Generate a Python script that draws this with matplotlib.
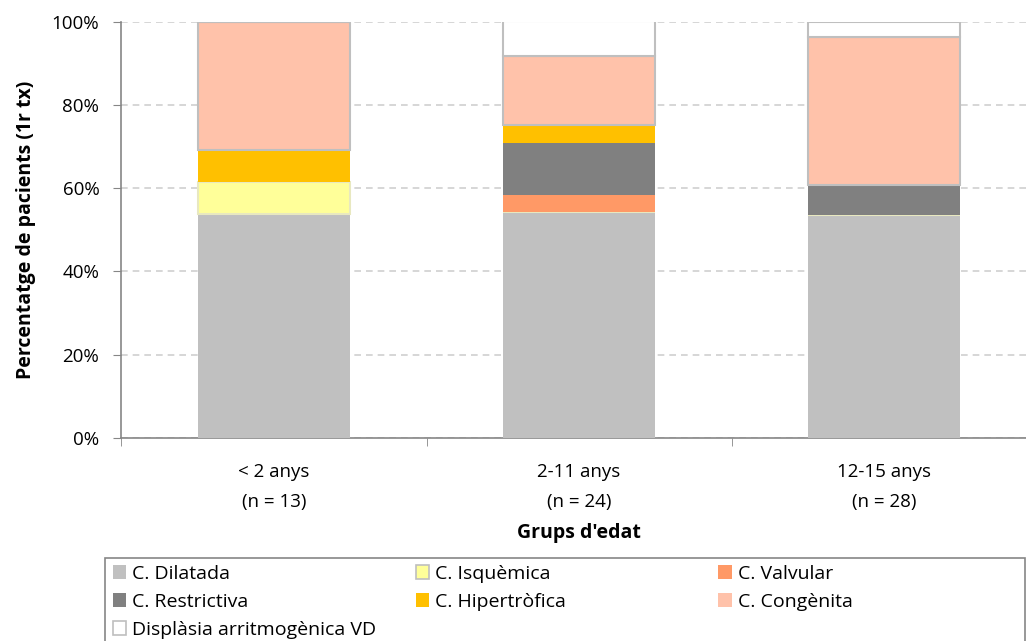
import numpy as np
import matplotlib.pyplot as plt
from matplotlib.patches import Rectangle
from matplotlib.ticker import PercentFormatter

plt.rcParams['font.family'] = ['Open Sans', 'DejaVu Sans']

grups = ['< 2 anys\n(n = 13)', '2-11 anys\n(n = 24)', '12-15 anys\n(n = 28)']
noms = ['C. Dilatada', 'C. Isquèmica', 'C. Valvular', 'C. Restrictiva',
        'C. Hipertròfica', 'C. Congènita', 'Displàsia arritmogènica VD']
# percentatges per grup (1r tx)
dilatada = [53.8, 54.2, 53.6]
isquemica = [7.7, 0, 0]
valvular = [0, 4.2, 0]
restrictiva = [0, 12.5, 7.1]
hipertrofica = [7.7, 4.2, 0]
congenita = [30.8, 16.7, 35.7]
displasia = [0, 8.3, 3.6]

colors = ['#C0C0C0', '#FFFF99', '#FF9966', '#808080', '#FFC000', '#FFC2AA', '#FFFFFF']
edges = ['none', '#E8E8C0', 'none', 'none', 'none', '#BFBFBF', '#BFBFBF']
FS = 13.5

fig = plt.figure(figsize=(10.26, 6.41), dpi=100)
# l'eix s'allarga una mica fora de la figura per la dreta, com a l'original
ax = fig.add_axes([0.1184, 0.317, 0.892, 0.649])

x = np.arange(len(grups))
series = [dilatada, isquemica, valvular, restrictiva, hipertrofica, congenita, displasia]
bottom = np.zeros(len(grups))
rects = []
for vals, nom, c, e in zip(series, noms, colors, edges):
    vals = np.array(vals)
    r = ax.bar(x, vals, 0.5, bottom=bottom, color=c, label=nom,
               edgecolor=e, linewidth=1.5 if e != 'none' else 0, zorder=3)
    rects.append(r)
    bottom = bottom + vals

ax.set_xlim(-0.5, 2.5)
ax.set_ylim(0, 100)
ax.set_yticks(np.arange(0, 101, 20))
ax.yaxis.set_major_formatter(PercentFormatter(decimals=0))
ax.set_xticks(x)
ax.set_xticklabels(grups, linespacing=1.85)
ax.set_xticks([-0.5, 0.5, 1.5, 2.5], minor=True)
ax.tick_params(axis='x', which='major', length=0, pad=18, labelsize=FS)
ax.tick_params(axis='x', which='minor', length=6, color='#868686', direction='out')
ax.tick_params(axis='y', length=6, color='#868686', labelsize=FS, pad=10)
ax.grid(axis='y', linestyle=(0, (4, 3)), color='#D0D0D0', linewidth=1.2, zorder=0)

for s in ['top', 'right']:
    ax.spines[s].set_visible(False)
for s in ['left', 'bottom']:
    ax.spines[s].set_color('#868686')
    ax.spines[s].set_linewidth(1.2)

ax.set_ylabel('Percentatge de pacients (1r tx)', fontsize=14, fontweight='bold', labelpad=11)
ax.set_xlabel("Grups d'edat", fontsize=14, fontweight='bold', labelpad=9)

# llegenda: marc i tres columnes, fila a fila com a Excel
fig.patches.append(Rectangle((0.102, -0.05), 0.897, 0.18, transform=fig.transFigure,
                             facecolor='white', edgecolor='#868686', linewidth=1.2))
columnes = [[0, 3, 6], [1, 4], [2, 5]]
xcol = [0.110, 0.405, 0.700]
for idx, xc in zip(columnes, xcol):
    leg = fig.legend([rects[i] for i in idx], [noms[i] for i in idx],
                     loc='upper left', bbox_to_anchor=(xc, 0.119),
                     fontsize=14, frameon=False,
                     handlelength=0.7, handleheight=0.7, handletextpad=0.3,
                     labelspacing=0.52, borderpad=0, borderaxespad=0)
    for h, i in zip(leg.legend_handles, idx):
        h.set_edgecolor('#BFBFBF' if colors[i] in ('#FFFFFF', '#FFFF99') else 'none')
        h.set_linewidth(1.2)

fig.savefig('out.png', dpi=100)
